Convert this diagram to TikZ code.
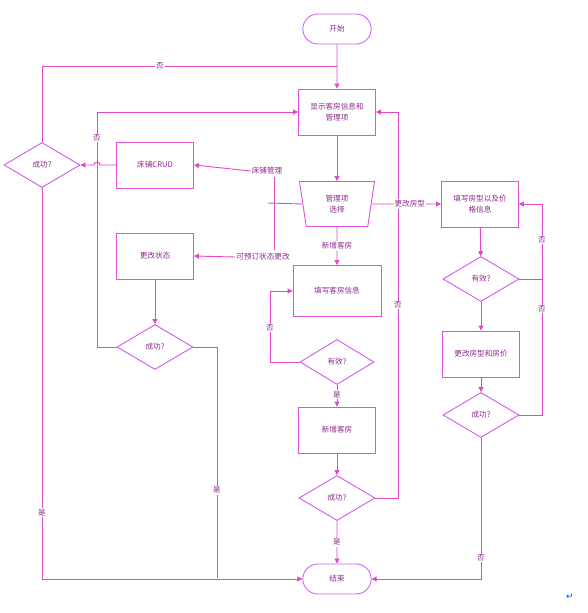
\documentclass[tikz,border=0pt]{standalone}
\usepackage{fontspec}
\setmainfont{Noto Sans CJK SC}
\newfontfamily\symfont{DejaVu Sans}
\usetikzlibrary{shapes.geometric,shapes.misc,arrows.meta}
\definecolor{linec}{HTML}{E048C8}
\definecolor{boxc}{HTML}{E050D8}
\definecolor{decc}{HTML}{CC5CEE}
\definecolor{termc}{HTML}{C866F8}
\definecolor{txtc}{HTML}{8C2A8C}
\tikzset{
  every node/.style={font=\fontsize{7.6}{10.5}\selectfont, text=txtc},
  proc/.style={rectangle, draw=boxc, line width=0.9pt, minimum width=77pt, minimum height=46pt, align=center, inner sep=1pt},
  dec/.style={diamond, draw=decc, line width=0.9pt, minimum width=76pt, minimum height=45pt, inner sep=0pt},
  term/.style={rounded rectangle, draw=termc, line width=0.9pt, minimum width=75pt, minimum height=30pt},
  trap/.style={trapezium, shape border rotate=180, trapezium stretches body, trapezium left angle=69, trapezium right angle=69, draw=boxc, line width=0.9pt, minimum width=75pt, minimum height=45pt, align=center, inner sep=0pt},
  conn/.style={draw=linec, line width=0.9pt},
  arr/.style={conn, -{Triangle[length=5pt,width=5pt]}},
  lbl/.style={fill=white, inner sep=1pt},
}
\begin{document}
\begin{tikzpicture}[x=1pt,y=-1pt]
\useasboundingbox[fill=white] (0,0) rectangle (588,613);
% nodes
\node[term] (start) at (337,29) {开始};
\node[proc] (disp) at (337,112) {显示客房信息和\\管理项};
\node[trap] (sel) at (337,204) {管理项\\选择};
\node[proc] (crud) at (155,165) {床铺CRUD};
\node[proc] (chg) at (155,256) {更改状态};
\node[dec] (s1) at (42,165) {成功?};
\node[dec] (s2) at (155,347) {成功?};
\node[proc, minimum width=88pt, minimum height=51pt] (fill1) at (337,291) {填写客房信息};
\node[dec, minimum width=74pt] (v1) at (337,362) {有效?};
\node[proc] (add) at (337,430) {新增客房};
\node[dec] (s3) at (337,498) {成功?};
\node[term] (end) at (337,579) {结束};
\node[proc] (fill2) at (480,204) {填写房型以及价\\格信息};
\node[dec] (v2) at (481,279) {有效?};
\node[proc] (upd) at (481,354) {更改房型和房价};
\node[dec] (s4) at (481,415) {成功?};
\node[font=\symfont\fontsize{9}{9}\selectfont, text=blue!70!cyan] (ret) at (570,597) {↵};
% branch labels
\node[lbl] (bm) at (267,171) {床铺管理};
\node[lbl] (kz) at (263,257) {可预订状态更改};
\coordinate (selL) at (268,203);
\coordinate (vTop) at (274,177);
\coordinate (vBot) at (274,250);
\coordinate (j1) at (337,66);
% connectors
\draw[arr] (start) -- (disp);
\draw[arr] (disp) -- (sel);
\draw[conn] (sel.west) -- (selL);
\draw[conn] (vTop) -- (vBot);
\draw[arr] (bm.west) -- (crud.east);
\draw[arr] (kz.west) -- (chg.east);
\draw[arr] (crud.west) -- (100,165) arc[start angle=0, end angle=-180, radius=3] -- (s1.east);
\draw[conn] (s1.north) |- (j1) node[lbl, pos=0.7] {否};
\draw[arr] (s1.south) |- (end.west) node[lbl, pos=0.415] {是};
\draw[arr] (chg) -- (s2);
\draw[arr] (s2.west) -| (97,112) node[lbl, pos=0.945] {否} -- (disp.west);
\draw[conn] (s2.east) -| (217,578) node[lbl, pos=0.81] {是};
\draw[arr] (sel) -- node[lbl] {新增客房} (fill1);
\draw[arr] (v1.west) -| (270,291) node[lbl, pos=0.74] {否} -- (fill1.west);
\draw[arr] (v1) -- node[lbl, pos=0.45] {是} (add);
\draw[arr] (add) -- (s3);
\draw[arr] (s3.east) -| (398,112) node[lbl, pos=0.75] {否} -- (disp.east);
\draw[arr] (s3) -- node[lbl] {是} (end);
\draw[arr] (sel.east) -- node[lbl, pos=0.55] {更改房型} (fill2.west);
\draw[arr] (fill2) -- (v2);
\draw[arr] (v2.east) -| (542,204) node[lbl, pos=0.76] {否} -- (fill2.east);
\draw[arr] (v2) -- (upd);
\draw[arr] (upd) -- (s4);
\draw[conn] (s4.east) -| (542,279) node[lbl, pos=0.89] {否};
\draw[arr] (s4.south) |- node[lbl, pos=0.425] {否} (end.east);
\end{tikzpicture}
\end{document}
